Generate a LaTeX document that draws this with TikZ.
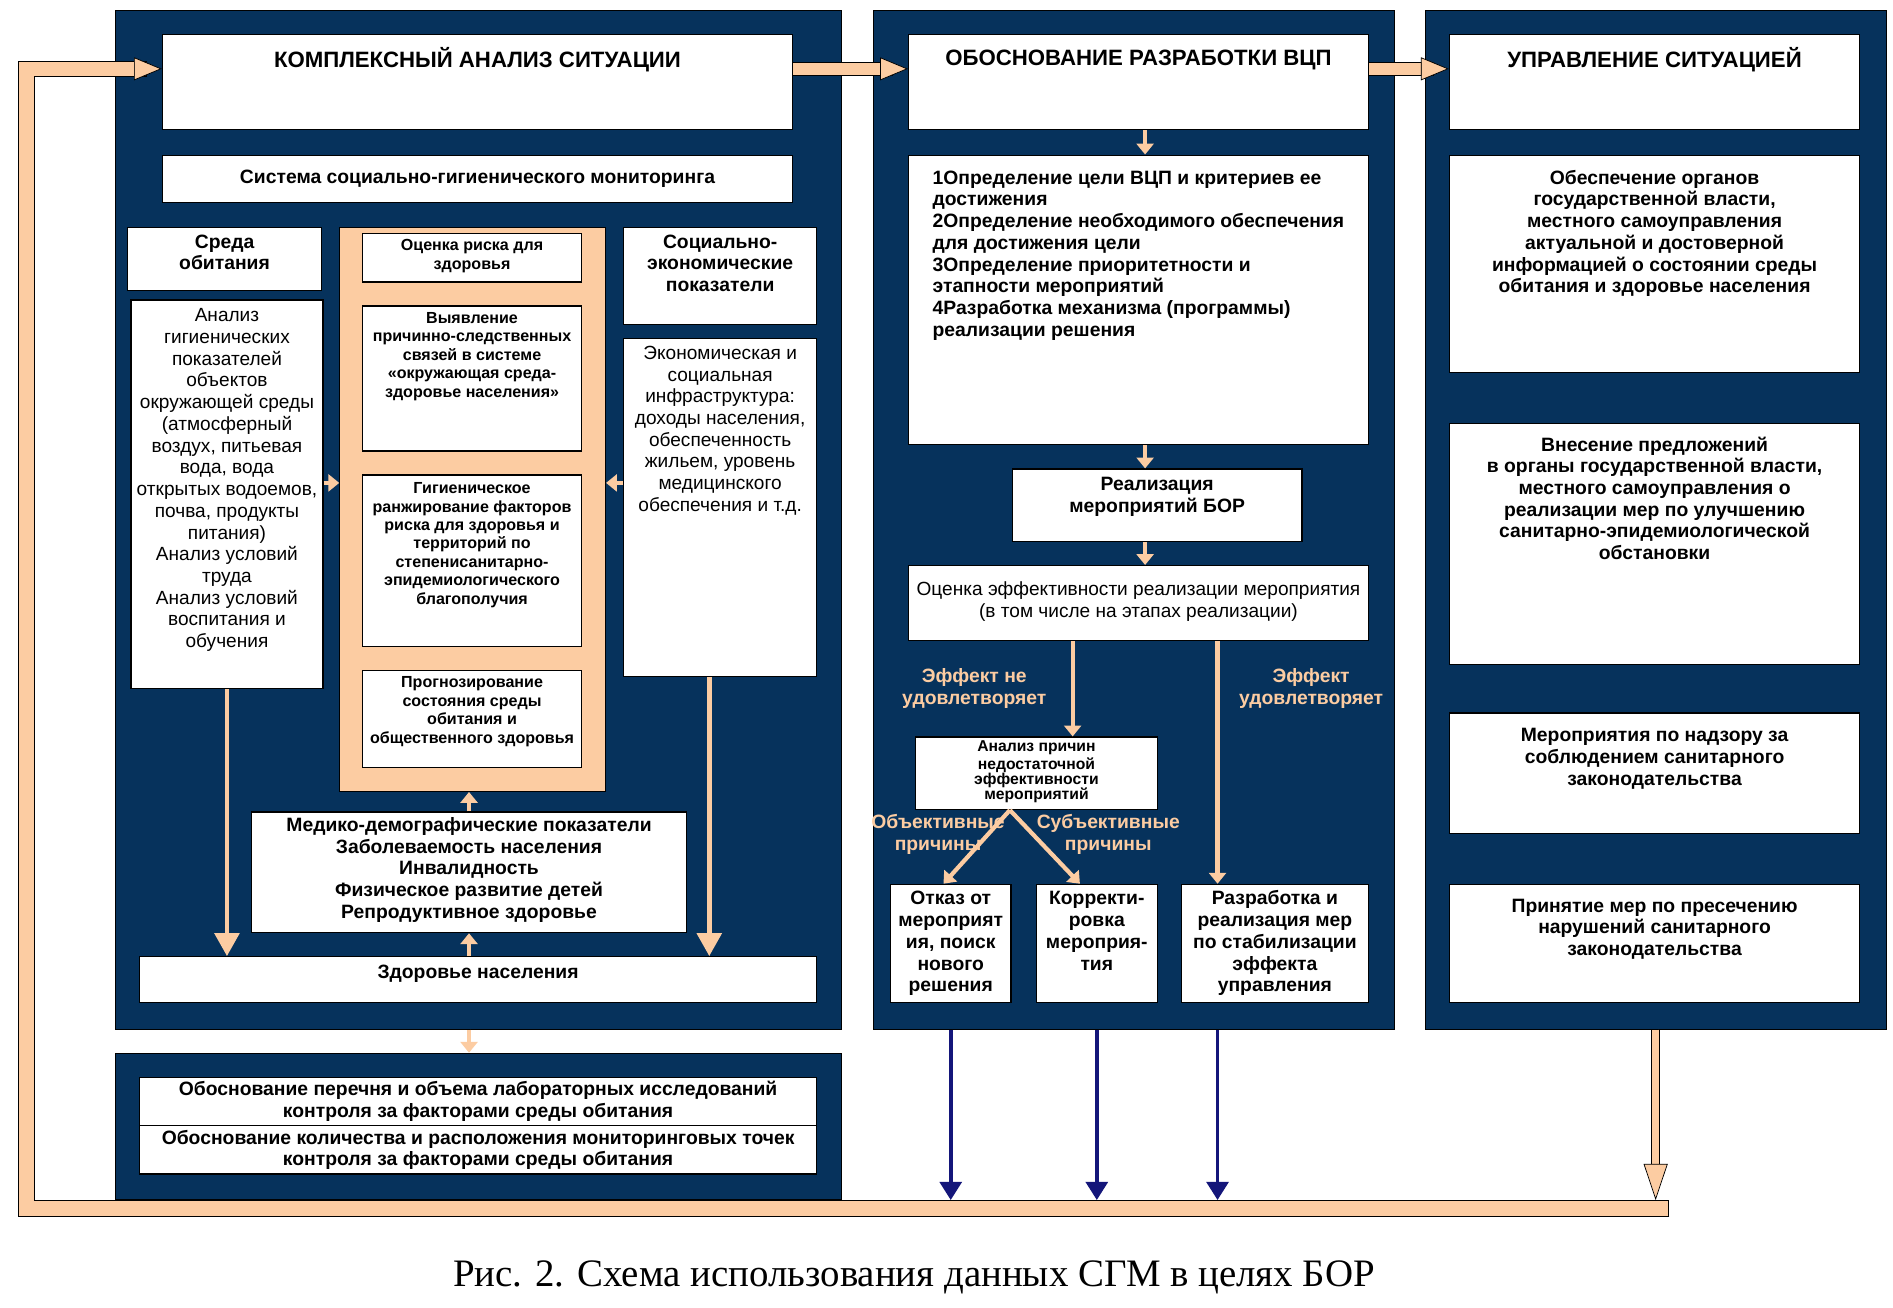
\documentclass[tikz,border=0pt]{standalone}
\usepackage{fontspec}
\setmainfont{Liberation Sans}
\newfontfamily\capserif{Liberation Serif}
\usetikzlibrary{arrows.meta}

\definecolor{navy}{RGB}{6,50,92}
\definecolor{peach}{RGB}{252,204,162}
\definecolor{arrowblue}{RGB}{20,22,122}

% text blocks: width, height, top gap, text
\newcommand{\tb}[4]{\parbox[c][#2][t]{#1}{\centering\vspace*{#3}\strut#4}}
\newcommand{\tbl}[4]{\parbox[c][#2][t]{#1}{\raggedright\leftskip=20pt\vspace*{#3}\strut#4}}
\newcommand{\cb}[3]{\parbox[c][#2][c]{#1}{\centering#3}}

\tikzset{
  panel/.style={draw=black, fill=navy, line width=0.8pt, inner sep=0pt, anchor=north west},
  box/.style={draw=black, fill=white, line width=1pt, inner sep=0pt, anchor=north west},
  headtxt/.style={font=\fontsize{18.4}{21.6}\selectfont\bfseries},
  boldtxt/.style={font=\fontsize{16}{18}\selectfont\bfseries},
  plaintxt/.style={font=\fontsize{15.8}{18}\selectfont},
  smalltxt/.style={font=\fontsize{13.3}{15.3}\selectfont\bfseries},
  tinytxt/.style={font=\fontsize{13}{12.5}\selectfont\bfseries},
  peachtxt/.style={text=peach, align=center, inner sep=0pt, font=\fontsize{16}{18}\selectfont\bfseries},
  fat/.style={draw=peach, line width=10pt, -{Triangle[length=23pt,width=19pt,fill=peach,color=black,line width=0.6pt]},
    preaction={draw=black, line width=11.4pt, -, shorten >=12pt}},
  fatloop/.style={draw=peach, line width=12pt, line join=miter, -{Triangle[length=23pt,width=19pt,fill=peach,color=black,line width=0.6pt]},
    preaction={draw=black, line width=13.4pt, line join=miter, -, shorten >=12pt, shorten <=-0.7pt}},
  fatthin/.style={draw=peach, line width=6pt, -{Triangle[length=30pt,width=20pt,fill=peach,color=black,line width=0.6pt]},
    preaction={draw=black, line width=7.4pt, -, shorten >=20pt}},
  lnk/.style={draw=peach, line width=3.5pt, -{Triangle[length=9pt,width=14pt]}},
  lnkbig/.style={draw=peach, line width=4pt, -{Triangle[length=19pt,width=20pt]}},
  bluearr/.style={draw=arrowblue, line width=3pt, -{Triangle[length=15pt,width=18pt]}}
}

\begin{document}
\begin{tikzpicture}[x=1pt,y=-1pt]
	\useasboundingbox[fill=white] (0,0) rectangle (1568,1083.4);
	
	% panels
	\node[panel, minimum width=602pt, minimum height=844pt] (leftp) at (95,8) {};
	\node[panel, minimum width=602pt, minimum height=121pt] (lowp) at (95,872) {};
	\node[panel, minimum width=432pt, minimum height=844pt] (midp) at (723,8) {};
	\node[panel, minimum width=382pt, minimum height=844pt] (rightp) at (1180,8) {};
	
	% left panel
	\node[box, headtxt] (title1) at (134,28) {\tb{522pt}{79pt}{10.8pt}{КОМПЛЕКСНЫЙ АНАЛИЗ СИТУАЦИИ}};
	\node[box, boldtxt] (sgm) at (134,128) {\cb{522pt}{39pt}{Система социально-гигиенического мониторинга}};
	\node[box, boldtxt] (sreda) at (105,188) {\tb{161pt}{52pt}{4.5pt}{Среда\\обитания}};
		\node[box, plaintxt] (analiz) at (108,248) {\tb{159pt}{322pt}{5.4pt}{Анализ\\гигиенических\\показателей\\объектов\\окружающей среды\\(атмосферный\\воздух, питьевая\\вода, вода\\открытых водоемов,\\почва, продукты\\питания)\\Анализ условий\\труда\\Анализ условий\\воспитания и\\обучения}};
	\node[box, fill=peach, minimum width=220pt, minimum height=467pt] (peachp) at (281,188) {};
		\node[box, smalltxt] (risk) at (300,193) {\tb{181pt}{40pt}{3.6pt}{Оценка риска для\\здоровья}};
		\node[box, smalltxt] (vyyav) at (300,253) {\tb{181pt}{120pt}{3.6pt}{Выявление\\причинно-следственных\\связей в системе\\«окружающая среда-\\здоровье населения»}};
		\node[box, smalltxt] (rank) at (300,393) {\tb{181pt}{142pt}{4.6pt}{Гигиеническое\\ранжирование факторов\\риска для здоровья и\\территорий по\\степенисанитарно-\\эпидемиологического\\благополучия}};
		\node[box, smalltxt] (prog) at (300,555) {\tb{181pt}{80pt}{3.6pt}{Прогнозирование\\состояния среды\\обитания и\\общественного здоровья}};
	\node[box, boldtxt] (socek) at (516,188) {\tb{160pt}{80pt}{4.5pt}{Социально-\\экономические\\показатели}};
		\node[box, plaintxt] (econ) at (516,280) {\tb{160pt}{280pt}{4.5pt}{Экономическая и\\социальная\\инфраструктура:\\доходы населения,\\обеспеченность\\жильем, уровень\\медицинского\\обеспечения и т.д.}};
	\node[box, boldtxt] (medic) at (208,672) {\tb{360pt}{100pt}{3.5pt}{Медико-демографические показатели\\Заболеваемость населения\\Инвалидность\\Физическое развитие детей\\Репродуктивное здоровье}};
	\node[box, boldtxt] (zdor) at (115,792) {\tb{561pt}{38pt}{5.5pt}{Здоровье населения}};
	
	% lower panel
	\node[box, boldtxt] (labs) at (115,892) {\cb{561pt}{40pt}{Обоснование перечня и объема лабораторных исследований\\контроля за факторами среды обитания}};
	\node[box, boldtxt] (points) at (115,932) {\cb{561pt}{40pt}{Обоснование количества и расположения мониторинговых точек\\контроля за факторами среды обитания}};
	
	% middle panel
	\node[box, headtxt] (title2) at (752,28) {\tb{381pt}{79pt}{10.8pt}{ОБОСНОВАНИЕ РАЗРАБОТКИ ВЦП}};
	\node[box, boldtxt] (opred) at (752,128) {\tbl{381pt}{240pt}{11.5pt}{1Определение цели ВЦП и критериев ее\\достижения\\2Определение необходимого обеспечения\\для достижения цели\\3Определение приоритетности и\\этапности мероприятий\\4Разработка механизма (программы)\\реализации решения}};
	\node[box, boldtxt] (realiz) at (838,388) {\tb{240pt}{60pt}{5.5pt}{Реализация\\мероприятий БОР}};
	\node[box, plaintxt] (ocenka) at (752,468) {\tb{381pt}{62pt}{12.5pt}{Оценка эффективности реализации мероприятия\\(в том числе на этапах реализации)}};
	\node[box, tinytxt] (analprich) at (758,610) {\tb{200pt}{60pt}{3.4pt}{Анализ причин\\недостаточной\\эффективности\\мероприятий}};
	\node[box, boldtxt] (otkaz) at (737,732) {\tb{100pt}{98pt}{4.5pt}{Отказ от\\мероприят\\ия, поиск\\нового\\решения}};
	\node[box, boldtxt] (korr) at (858,732) {\tb{100pt}{98pt}{4.5pt}{Корректи-\\ровка\\мероприя-\\тия}};
	\node[box, boldtxt] (razr) at (978,732) {\tb{155pt}{98pt}{4.5pt}{Разработка и\\реализация мер\\по стабилизации\\эффекта\\управления}};
	
	\node[peachtxt] (lblno) at (807,570) {Эффект не\\удовлетворяет};
	\node[peachtxt] (lblok) at (1086,570) {Эффект\\удовлетворяет};
	\node[peachtxt] (lblobj) at (777,691) {Объективные\\причины};
	\node[peachtxt] (lblsubj) at (918,691) {Субъективные\\причины};
	
	% right panel
	\node[box, headtxt] (title3) at (1200,28) {\tb{340pt}{79pt}{10.8pt}{УПРАВЛЕНИЕ СИТУАЦИЕЙ}};
	\node[box, boldtxt] (obesp) at (1200,128) {\tb{340pt}{180pt}{11.5pt}{Обеспечение органов\\государственной власти,\\местного самоуправления\\актуальной и достоверной\\информацией о состоянии среды\\обитания и здоровье населения}};
	\node[box, boldtxt] (vnes) at (1200,350) {\tb{340pt}{200pt}{10.5pt}{Внесение предложений\\в органы государственной власти,\\местного самоуправления о\\реализации мер по улучшению\\санитарно-эпидемиологической\\обстановки}};
	\node[box, boldtxt] (nadzor) at (1200,590) {\tb{340pt}{100pt}{11.5pt}{Мероприятия по надзору за\\соблюдением санитарного\\законодательства}};
	\node[box, boldtxt] (presech) at (1200,732) {\tb{340pt}{98pt}{10.5pt}{Принятие мер по пресечению\\нарушений санитарного\\законодательства}};
	
	% connectors
	\coordinate (loopend) at (1382,1001);
	\coordinate (loopcorner) at (22,1001);
	\coordinate (looptop) at (22,57);
	\coordinate (bartop) at (1370,994);
	\coordinate (rowmid) at (0,400);
	\coordinate (effno) at ([xshift=-54.5pt]ocenka.south);
	\coordinate (effok) at ([xshift=65.5pt]ocenka.south);
	\coordinate (econdrop) at ([xshift=-9pt]econ.south);
	
	\draw[fatloop] (loopend) -- (loopcorner) -- (looptop) -- ([yshift=-29pt]title1.north west);
	\draw[fat] ([yshift=-29pt]title1.north east) -- ([yshift=-29pt]title2.north west);
	\draw[fat] ([yshift=-29pt]title2.north east) -- ([yshift=-29pt]title3.north west);
	\draw[fatthin] (rightp.south) -- (rightp.south |- bartop);
	
	\draw[lnk] (analiz.east |- rowmid) -- (peachp.west |- rowmid);
	\draw[lnk] (econ.west |- rowmid) -- (peachp.east |- rowmid);
	\draw[lnkbig] (analiz.south) -- (analiz.south |- zdor.north);
	\draw[lnkbig] (econdrop) -- (econdrop |- zdor.north);
	\draw[lnk] (medic.north) -- (medic.north |- peachp.south);
	\draw[lnk] (medic.south |- zdor.north) -- (medic.south);
	\draw[lnk] (medic.south |- leftp.south) -- (medic.south |- lowp.north);
	
	\draw[lnk] ([xshift=5.5pt]title2.south) -- ([xshift=5.5pt]opred.north);
	\draw[lnk] ([xshift=5.5pt]opred.south) -- ([xshift=-10pt]realiz.north);
	\draw[lnk] ([xshift=-10pt]realiz.south) -- ([xshift=5.5pt]ocenka.north);
	\draw[lnk] (effno) -- (effno |- analprich.north);
	\draw[lnk] (effok) -- (effok |- razr.north);
	\draw[lnk] ([xshift=-22pt]analprich.south) -- ([xshift=-6pt]otkaz.north);
	\draw[lnk] ([xshift=-22pt]analprich.south) -- ([xshift=-14pt]korr.north);
	
	\draw[bluearr] (otkaz.south |- midp.south) -- (otkaz.south |- bartop);
	\draw[bluearr] (korr.south |- midp.south) -- (korr.south |- bartop);
	\draw[bluearr] (effok |- midp.south) -- (effok |- bartop);
	
	\node[font=\capserif\fontsize{32.2}{38}\selectfont] (caption) at (757,1058) {Рис. 2. Схема использования данных СГМ в целях БОР};
\end{tikzpicture}
\end{document}
